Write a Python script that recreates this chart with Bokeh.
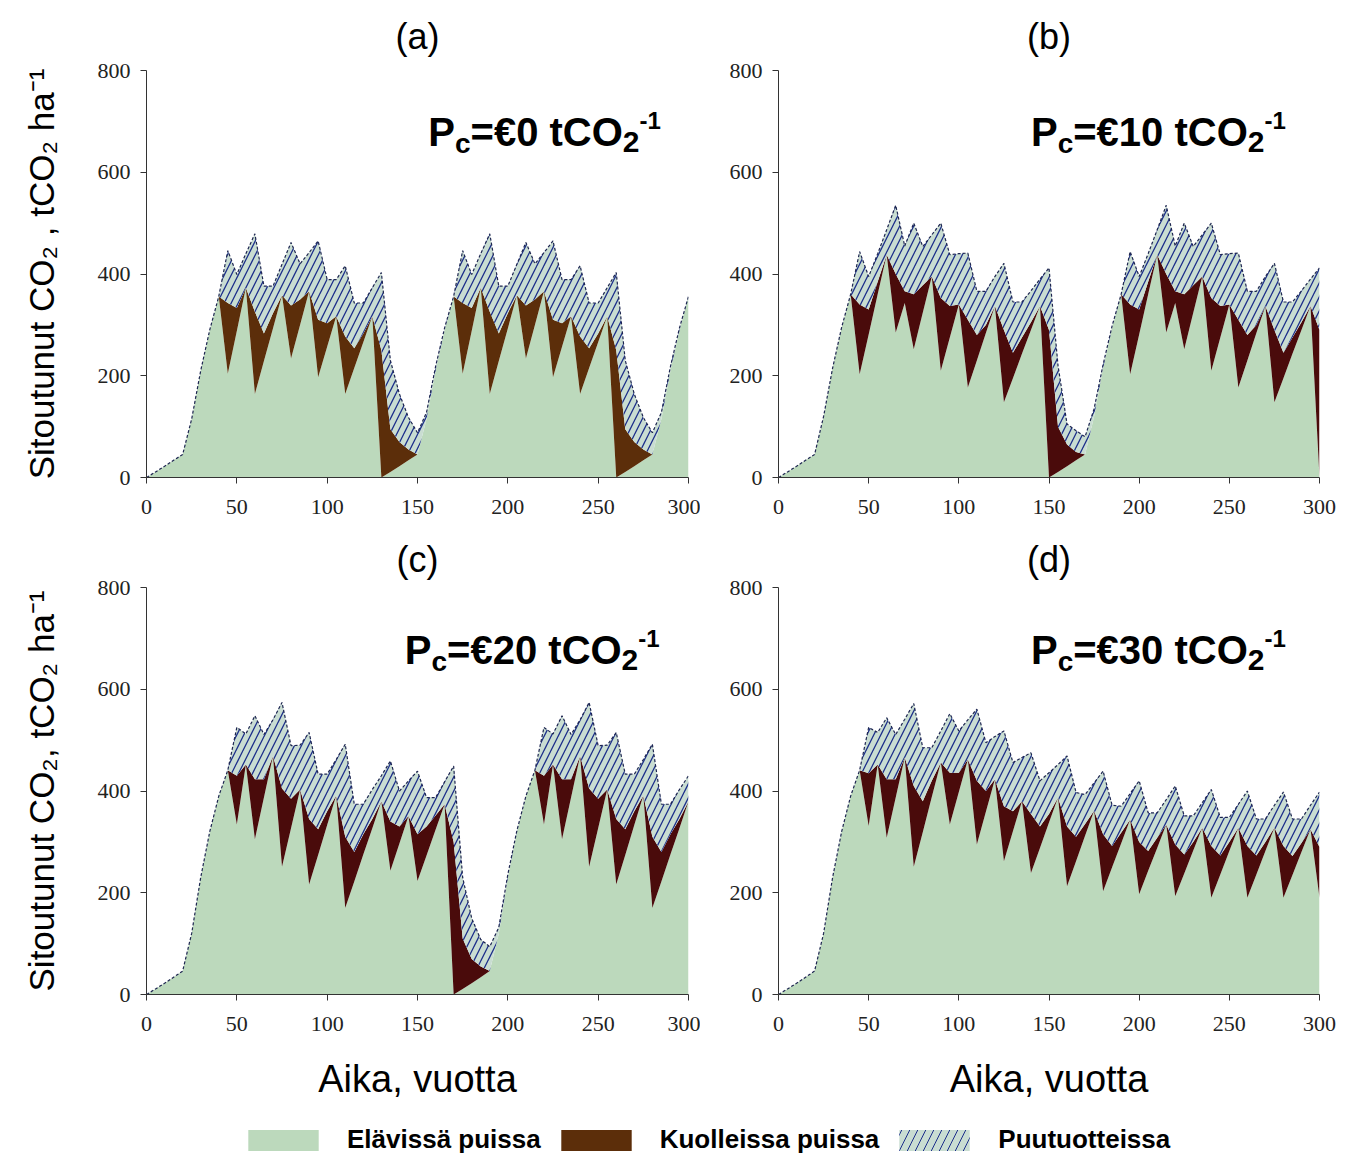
from bokeh.plotting import figure
from bokeh.layouts import column, row
from bokeh.models import ColumnDataSource, Range1d, FixedTicker, Label, Legend, LegendItem
from bokeh.transform import stack
from bokeh.embed import file_html
from bokeh.resources import INLINE

# time axis, years (5-year steps)
years = list(range(0, 301, 5))

# carbon stocks, tCO2/ha: living trees, dead trees, wood products
# (a) carbon price 0 EUR/tCO2
living_a = [0, 11, 22, 34, 45, 115, 210, 290, 356,
            204, 288, 373, 164, 229, 293, 358, 234, 300, 366, 197, 257, 317, 164, 215, 266, 317, 0,
            11, 22, 34, 45, 115, 210, 290, 356,
            204, 288, 373, 164, 229, 293, 358, 234, 300, 366, 197, 257, 317, 164, 215, 266, 317, 0,
            11, 22, 34, 45, 115, 210, 290, 356]
dead_a = [0, 0, 0, 0, 0, 0, 0, 0, 0,
          139, 45, 0, 162, 54, 30, 0, 104, 50, 0, 113, 46, 0, 113, 39, 17, 0, 250,
          84, 48, 21, 0, 0, 0, 0, 0,
          139, 45, 0, 162, 54, 30, 0, 104, 50, 0, 113, 46, 0, 113, 39, 17, 0, 250,
          84, 48, 21, 0, 0, 0, 0, 0]
products_a = [0, 0, 0, 0, 0, 0, 0, 0, 0,
              103, 66, 67, 153, 93, 53, 61, 124, 70, 76, 155, 86, 72, 139, 89, 60, 56, 153,
              135, 94, 63, 43, 13, 8, 4, 0,
              103, 66, 67, 153, 93, 53, 61, 124, 70, 76, 155, 86, 72, 139, 89, 60, 56, 153,
              135, 94, 63, 43, 13, 8, 4, 0]

# (b) carbon price 10 EUR/tCO2
living_b = [0, 11, 22, 34, 45, 120, 215, 295, 360,
            203, 281, 360, 438, 285, 343, 252, 324, 395, 210, 275, 340, 177, 230, 284, 337, 148, 195, 243, 290, 337, 0,
            11, 22, 34, 45, 120, 215, 295, 360,
            203, 281, 360, 438, 285, 343, 252, 324, 395, 210, 275, 340, 177, 230, 284, 337, 148, 195, 243, 290, 337, 0]
dead_b = [0, 0, 0, 0, 0, 0, 0, 0, 0,
          137, 49, 25, 0, 115, 23, 108, 54, 0, 143, 62, 0, 133, 50, 16, 0, 142, 50, 32, 15, 0, 290,
          89, 43, 16, 0, 0, 0, 0, 0,
          137, 49, 25, 0, 115, 23, 108, 54, 0, 143, 62, 0, 133, 50, 16, 0, 142, 50, 32, 15, 0, 290]
products_b = [0, 0, 0, 0, 0, 0, 0, 0, 0,
              104, 65, 55, 49, 135, 89, 140, 76, 82, 147, 101, 100, 131, 86, 66, 58, 131, 100, 70, 62, 53, 122,
              120, 40, 42, 35, 15, 7, 3, 0,
              104, 65, 55, 49, 135, 89, 140, 76, 82, 147, 101, 100, 131, 86, 66, 58, 131, 100, 70, 62, 53, 122]

# (c) carbon price 20 EUR/tCO2
living_c = [0, 11, 22, 34, 46, 120, 230, 320, 390, 441,
            334, 452, 305, 387, 469, 251, 327, 403, 216, 274, 333, 391, 170, 222, 275, 327, 380,
            243, 297, 351, 223, 273, 324, 374, 0,
            11, 22, 34, 46, 120, 230, 320, 390, 441,
            334, 452, 305, 387, 469, 251, 327, 403, 216, 274, 333, 391, 170, 222, 275, 327, 380]
dead_c = [0, 0, 0, 0, 0, 0, 0, 0, 0, 0,
          96, 0, 118, 36, 0, 154, 58, 0, 129, 51, 27, 0, 140, 58, 40, 18, 0,
          97, 33, 0, 92, 57, 28, 0, 300,
          99, 48, 21, 0, 0, 0, 0, 0, 0,
          96, 0, 118, 36, 0, 154, 58, 0, 129, 51, 27, 0, 140, 58, 40, 18, 0]
products_c = [0, 0, 0, 0, 0, 0, 0, 0, 0, 0,
              95, 60, 125, 88, 71, 169, 104, 87, 170, 108, 73, 71, 182, 94, 59, 58, 50,
              119, 70, 69, 124, 57, 35, 44, 149,
              120, 80, 53, 48, 12, 6, 2, 0, 0,
              95, 60, 125, 88, 71, 169, 104, 87, 170, 108, 73, 71, 182, 94, 59, 58, 50]

# (d) carbon price 30 EUR/tCO2
living_d = [0, 11, 22, 34, 46, 120, 230, 320, 390, 441,
            331, 452, 308, 387, 466, 251, 319, 388, 456, 334, 398, 462, 295, 359, 423, 262, 321, 380,
            239, 288, 338, 387, 213, 262, 312, 361, 203, 250, 297, 344, 197, 243, 288, 334,
            193, 238, 283, 328, 190, 236, 282, 328, 190, 236, 282, 328, 190, 235, 280, 325, 190]
dead_d = [0, 0, 0, 0, 0, 0, 0, 0, 0, 0,
          104, 0, 115, 36, 0, 159, 61, 32, 0, 102, 38, 0, 125, 41, 0, 108, 39, 0,
          116, 42, 17, 0, 117, 48, 23, 0, 112, 42, 21, 0, 103, 39, 20, 0,
          102, 37, 17, 0, 102, 37, 18, 0, 102, 37, 18, 0, 102, 37, 18, 0, 100]
products_d = [0, 0, 0, 0, 0, 0, 0, 0, 0, 0,
              90, 63, 121, 88, 75, 162, 105, 65, 62, 116, 82, 78, 141, 95, 84, 148, 96, 86,
              120, 90, 81, 65, 139, 87, 58, 55, 124, 80, 52, 51, 120, 75, 49, 49,
              115, 76, 51, 49, 111, 75, 48, 46, 108, 72, 45, 44, 106, 73, 47, 47, 108]

x_ticks = [0, 50, 100, 150, 200, 250, 300]
y_ticks = [0, 200, 400, 600, 800]
legend_labels = ["Elävissä puissa", "Kuolleissa puissa", "Puutuotteissa"]

GREEN = "#bcd9bc"
PRODUCT_FILL = "#c9ddd2"
HATCH_BLUE = "#1c2e8a"
OUTLINE = "#1d2550"
BROWN_LIGHT = "#5c2e0a"
BROWN_DARK = "#4a0b0b"

SANS = "Liberation Sans"
SERIF = "Liberation Serif"

# advance widths (em) of Liberation Sans Bold, used to chain label pieces
ADV = {"=": 0.584, "€": 0.556, "0": 0.556, "1": 0.556, "2": 0.556, "3": 0.556,
       " ": 0.278, "t": 0.333, "C": 0.722, "O": 0.778, "P": 0.667, "c": 0.556, "-": 0.333}


def text_width(s, size):
    return sum(ADV[ch] for ch in s) * size


def price_label(p, x, y, amount):
    big, sub_c, sub_2, sup = 40, 28, 30, 24
    pieces = []
    cx = 0.0
    pieces.append(("P", cx, 0, big)); cx += text_width("P", big)
    pieces.append(("c", cx, -12, sub_c)); cx += text_width("c", sub_c)
    main = "=€" + amount + " tCO"
    pieces.append((main, cx, 0, big)); cx += text_width(main, big)
    pieces.append(("2", cx, -10, sub_2)); cx += text_width("2", sub_2)
    pieces.append(("-1", cx, 11, sup))
    for txt, dx, dy, size in pieces:
        p.add_layout(Label(x=x, y=y, x_offset=dx, y_offset=dy, text=txt,
                           text_font=SANS, text_font_style="bold",
                           text_font_size=f"{size}px", text_baseline="alphabetic",
                           text_color="black"))


def panel(tag, living, dead, products, brown, amount, width, height,
          left, right, top, bottom, title_offset, title_standoff, label_xy,
          ylabel=None, xlabel=None):
    src = ColumnDataSource(dict(year=years, living=living, dead=dead, products=products))
    p = figure(width=width, height=height, x_range=Range1d(0, 300), y_range=Range1d(0, 800),
               output_backend="svg", toolbar_location=None,
               min_border_left=left, min_border_right=right,
               min_border_top=top, min_border_bottom=bottom)
    rs = p.varea_stack(["living", "dead", "products"], x="year", source=src,
                       color=[GREEN, brown, PRODUCT_FILL])
    g = rs[2].glyph
    g.hatch_pattern = "/"
    g.hatch_color = HATCH_BLUE
    g.hatch_scale = 14
    g.hatch_weight = 1.3
    p.line(x="year", y=stack("living", "dead", "products"), source=src,
           line_color=OUTLINE, line_width=1.2, line_dash="3 2")

    p.grid.visible = False
    p.outline_line_color = None
    p.background_fill_color = "white"
    p.border_fill_color = "white"

    p.xaxis.ticker = FixedTicker(ticks=x_ticks)
    p.yaxis.ticker = FixedTicker(ticks=y_ticks)
    for ax in (p.xaxis, p.yaxis):
        ax.axis_line_color = "#333333"
        ax.major_tick_line_color = "#333333"
        ax.major_tick_in = 0
        ax.major_tick_out = 6
        ax.minor_tick_line_color = None
        ax.major_label_text_font = SERIF
        ax.major_label_text_font_size = "22px"
        ax.major_label_text_color = "#222222"
    p.xaxis.major_label_standoff = 16
    p.yaxis.major_label_standoff = 10

    if ylabel:
        p.yaxis.axis_label = ylabel
        p.yaxis.axis_label_text_font = SANS
        p.yaxis.axis_label_text_font_size = "35px"
        p.yaxis.axis_label_text_font_style = "normal"
        p.yaxis.axis_label_text_color = "black"
        p.yaxis.axis_label_standoff = 34
    if xlabel:
        p.xaxis.axis_label = xlabel
        p.xaxis.axis_label_text_font = SANS
        p.xaxis.axis_label_text_font_size = "38px"
        p.xaxis.axis_label_text_font_style = "normal"
        p.xaxis.axis_label_text_color = "black"
        p.xaxis.axis_label_standoff = 24

    p.title.text = tag
    p.title.align = "center"
    p.title.offset = title_offset
    p.title.text_font = SANS
    p.title.text_font_size = "36px"
    p.title.text_font_style = "normal"
    p.title.text_color = "black"
    p.title.standoff = title_standoff

    price_label(p, label_xy[0], label_xy[1], amount)
    return p


ylab_a = "Sitoutunut CO\u2082 , tCO\u2082 ha\u207b\u00b9"
ylab_c = "Sitoutunut CO\u2082, tCO\u2082 ha\u207b\u00b9"
xlab = "Aika, vuotta"

pa = panel("(a)", living_a, dead_a, products_a, BROWN_LIGHT, "0", 700, 527,
           146, 12, 70, 50, -24, 27, (156, 680), ylabel=ylab_a)
pb = panel("(b)", living_b, dead_b, products_b, BROWN_DARK, "10", 648, 527,
           78, 29, 70, 50, 4, 27, (140, 680))
pc = panel("(c)", living_c, dead_c, products_c, BROWN_DARK, "20", 700, 583,
           146, 12, 60, 116, -24, 16, (143, 678), ylabel=ylab_c, xlabel=xlab)
pd = panel("(d)", living_d, dead_d, products_d, BROWN_DARK, "30", 648, 583,
           78, 29, 60, 116, 4, 16, (140, 678), xlabel=xlab)

# shared legend strip; the proxy areas sit outside the visible range
leg = figure(width=1348, height=48, x_range=Range1d(0, 1), y_range=Range1d(0, 1),
             output_backend="svg", toolbar_location=None,
             x_axis_location=None, y_axis_location=None, min_border=0)
leg.grid.visible = False
leg.outline_line_color = None
proxy_x = [2, 3]
proxy_lo = [0, 0]
proxy_hi = [1, 1]
r_live = leg.varea(x=proxy_x, y1=proxy_lo, y2=proxy_hi, fill_color=GREEN)
r_dead = leg.varea(x=proxy_x, y1=proxy_lo, y2=proxy_hi, fill_color=BROWN_LIGHT)
r_prod = leg.varea(x=proxy_x, y1=proxy_lo, y2=proxy_hi, fill_color=PRODUCT_FILL,
                   hatch_pattern="/", hatch_color=HATCH_BLUE, hatch_scale=16, hatch_weight=1.0)
legend = Legend(items=[LegendItem(label=legend_labels[0], renderers=[r_live]),
                       LegendItem(label=legend_labels[1], renderers=[r_dead]),
                       LegendItem(label=legend_labels[2], renderers=[r_prod])],
                orientation="horizontal", location=(239, 3),
                glyph_width=88, glyph_height=26, label_standoff=20, spacing=11,
                padding=0, margin=0, border_line_color=None, background_fill_alpha=0,
                label_text_font=SANS, label_text_font_style="bold",
                label_text_font_size="26px", label_text_color="black")
leg.add_layout(legend)

layout = column(row(pa, pb), row(pc, pd), leg)

with open("out.html", "w") as f:
    f.write(file_html(layout, INLINE))
